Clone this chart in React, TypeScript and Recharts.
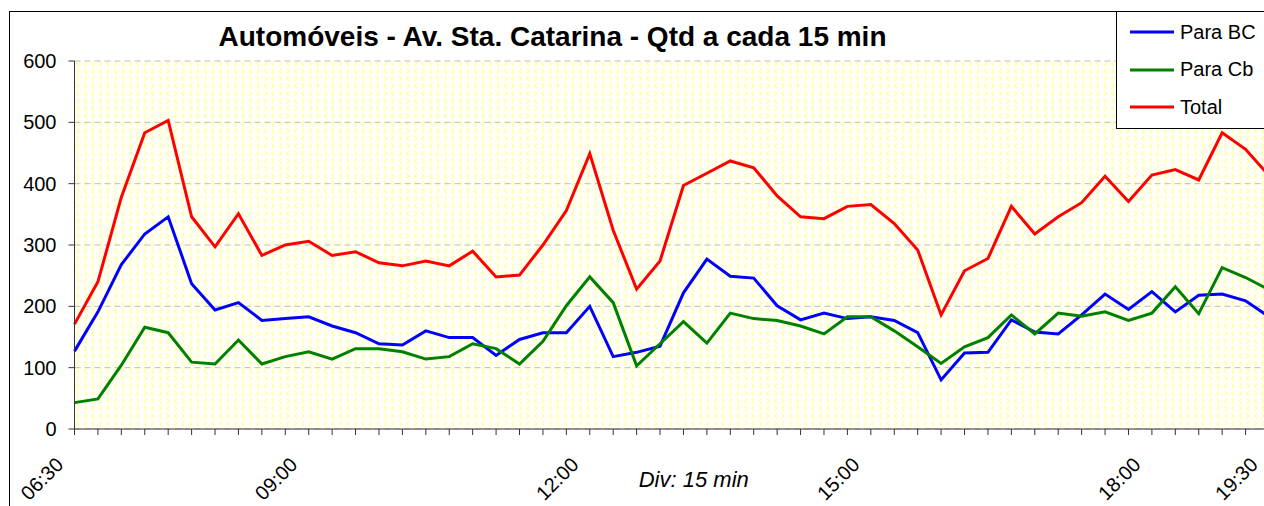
import React from 'react';
import { LineChart, Line, XAxis, YAxis, CartesianGrid, Legend } from 'recharts';

const FONT = '"Liberation Sans", Arial, sans-serif';

// 15-min slots, 06:30 onwards
const slots = [
  '06:30', '06:45', '07:00', '07:15', '07:30', '07:45', '08:00', '08:15', '08:30', '08:45',
  '09:00', '09:15', '09:30', '09:45', '10:00', '10:15', '10:30', '10:45', '11:00', '11:15',
  '11:30', '11:45', '12:00', '12:15', '12:30', '12:45', '13:00', '13:15', '13:30', '13:45',
  '14:00', '14:15', '14:30', '14:45', '15:00', '15:15', '15:30', '15:45', '16:00', '16:15',
  '16:30', '16:45', '17:00', '17:15', '17:30', '17:45', '18:00', '18:15', '18:30', '18:45',
  '19:00', '19:15',
];

const paraBC = [
  127, 191, 268, 318, 346, 237, 194, 206, 177, 180,
  183, 168, 157, 139, 137, 160, 149, 149, 120, 146,
  157, 157, 200, 118, 125, 135, 222, 277, 249, 246,
  201, 178, 189, 180, 183, 177, 157, 80, 124, 125,
  178, 158, 155, 186, 220, 195, 224, 191, 218, 220,
  209, 183,
];

const paraCb = [
  43, 49, 104, 166, 157, 109, 106, 145, 106, 118,
  126, 114, 131, 131, 126, 114, 118, 139, 131, 106,
  143, 201, 248, 206, 103, 139, 175, 140, 189, 180,
  177, 168, 155, 183, 183, 160, 134, 107, 134, 149,
  186, 155, 189, 184, 191, 177, 189, 232, 188, 263,
  247, 227,
];

const total = [
  171, 240, 378, 483, 503, 346, 297, 351, 283, 300,
  306, 283, 289, 271, 266, 274, 266, 290, 248, 251,
  300, 356, 449, 324, 228, 274, 397, 417, 437, 426,
  380, 346, 343, 363, 366, 335, 292, 186, 258, 278,
  363, 318, 346, 369, 412, 371, 414, 423, 406, 483,
  456, 413,
];

// which slots get a label on the axis, and the text shown
const tickSlots = ['06:30', '09:00', '12:00', '15:00', '18:00', '19:15'];
const tickTexts = ['06:30', '09:00', '12:00', '15:00', '18:00', '19:30'];

const yTicks = [0, 100, 200, 300, 400, 500, 600];

const series = [
  { key: 'bc', name: 'Para BC', color: '#0000FF' },
  { key: 'cb', name: 'Para Cb', color: '#008000' },
  { key: 'total', name: 'Total', color: '#FF0000' },
];

const data = slots.map((slot, i) => ({
  slot,
  bc: paraBC[i],
  cb: paraCb[i],
  total: total[i],
}));

const TimeTick = (props: any) => {
  const { x, y, payload } = props;
  const i = tickSlots.indexOf(payload.value);
  if (i < 0) return <g />;
  return (
    <g transform={`translate(${x - 10},${y + 29}) rotate(-45)`}>
      <text textAnchor="end" fontSize={20} fill="#000" fontFamily={FONT}>
        {tickTexts[i]}
      </text>
    </g>
  );
};

const LegendBox = () => (
  <div
    style={{
      position: 'relative',
      width: 170,
      height: 118,
      boxSizing: 'border-box',
      border: '1px solid #000',
      background: '#fff',
      fontFamily: FONT,
      fontSize: 20,
      color: '#000',
    }}
  >
    {series.map((s, i) => (
      <div
        key={s.key}
        style={{ position: 'absolute', left: 13, top: 7 + i * 37.7, height: 26, display: 'flex', alignItems: 'center' }}
      >
        <svg width={44} height={6} style={{ marginRight: 6 }}>
          <line x1={0} y1={3} x2={44} y2={3} stroke={s.color} strokeWidth={3} />
        </svg>
        <span>{s.name}</span>
      </div>
    ))}
  </div>
);

export default function App() {
  return (
    <div style={{ position: 'fixed', left: 0, top: 0, width: 1264, height: 506, overflow: 'hidden', background: '#fff' }}>
      <div style={{ position: 'absolute', left: 9, top: 11, width: 1400, height: 600, border: '1px solid #000' }} />
      <div
        style={{
          position: 'absolute',
          left: 0,
          top: 23,
          width: 1105,
          textAlign: 'center',
          fontFamily: FONT,
          fontWeight: 'bold',
          fontSize: 28,
          lineHeight: '28px',
          color: '#000',
        }}
      >
        Automóveis - Av. Sta. Catarina - Qtd a cada 15 min
      </div>
      <div style={{ position: 'absolute', left: 0, top: 0 }}>
        <LineChart
          width={1300}
          height={506}
          data={data}
          margin={{ top: 61, right: 31, bottom: 0, left: 14.5 }}
          style={{ fontFamily: FONT }}
        >
          <defs>
            <pattern id="chev" width={15} height={15} patternUnits="userSpaceOnUse">
              <rect width={15} height={15} fill="#FFFFF8" />
              <path
                d="M4 1 L1.8 3.5 L4 6 M9.5 1 L11.7 3.5 L9.5 6 M1.8 8.5 L4 11 L1.8 13.5 M11.7 8.5 L9.5 11 L11.7 13.5"
                stroke="#FFFFA0"
                strokeWidth={1.2}
                fill="none"
              />
            </pattern>
          </defs>
          <CartesianGrid vertical={false} stroke="#BFBFBF" strokeDasharray="6 4" fill="url(#chev)" fillOpacity={1} />
          <XAxis
            dataKey="slot"
            interval={0}
            height={77}
            padding={{ left: 0, right: 0 }}
            tickSize={6}
            stroke="#333"
            tick={<TimeTick />}
            label={{
              value: 'Div: 15 min',
              position: 'insideBottom',
              offset: 19,
              dx: 22,
              style: { fontStyle: 'italic', fontSize: 22, fill: '#000', fontFamily: FONT },
            }}
          />
          <YAxis
            width={60}
            domain={[0, 600]}
            ticks={yTicks}
            tickSize={6}
            tickMargin={12}
            stroke="#333"
            tick={{ fill: '#000', fontSize: 20, fontFamily: FONT }}
          />
          <Legend
            layout="horizontal"
            verticalAlign="middle"
            align="center"
            wrapperStyle={{ top: 11, left: 1116, width: 170, height: 118 }}
            content={<LegendBox />}
          />
          {series.map((s) => (
            <Line
              key={s.key}
              type="linear"
              dataKey={s.key}
              name={s.name}
              stroke={s.color}
              strokeWidth={3}
              dot={false}
              isAnimationActive={false}
            />
          ))}
        </LineChart>
      </div>
    </div>
  );
}
